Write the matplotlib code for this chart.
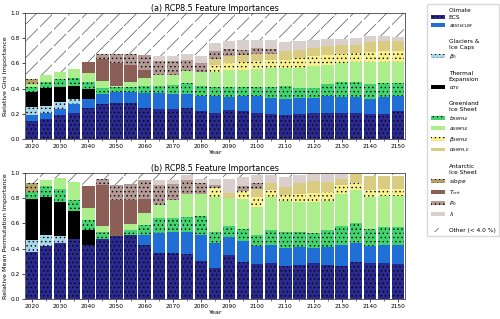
import matplotlib
matplotlib.use("Agg")
import matplotlib.pyplot as plt
from matplotlib.patches import Patch
import numpy as np

years = list(range(2020, 2155, 5))

# (a) relative Gini importance, one list per feature (stacked bottom -> top)
ecs_gini = [.14, .16, .19, .21, .245, .275, .29, .29, .245, .238, .238, .245, .22, .206,
            .228, .22, .206, .2, .193, .2, .206, .206, .206, .206, .2, .2, .22]
adoe_gini = [.05, .045, .05, .065, .075, .085, .085, .08, .12, .127, .122, .115, .124, .133,
             .103, .119, .133, .125, .127, .125, .119, .133, .127, .127, .12, .133, .119]
beta0_gini = [.065, .06, .055, .045] + [0] * 23
alphate_gini = [.12, .14, .12, .105, .075] + [0] * 22
bsimple_gini = [.04, .05, .06, .06, .055, .045, .04, .04, .06, .053, .07, .084, .079, .074,
                .082, .074, .074, .088, .098, .08, .08, .098, .117, .117, .12, .111, .105]
asimple_gini = [.02, .055, .055, .075, .075, .055, .01, .045, .06, .092, .08, .093, .106, .116,
                .132, .132, .143, .15, .145, .158, .172, .153, .153, .158, .168, .164, .164]
betasimple_gini = [0] * 13 + [.061, .058, .063, .06, .061, .061, .08, .079, .079, .074, .075,
                              .08, .088, .088]
alphasimple_gini = [0] * 13 + [.045, .053, .061, .059, .053, .072, .061, .066, .066, .069, .066,
                               .079, .079, .079]
slope_gini = [.04] + [0] * 26
tcrit_gini = [0, 0, 0, 0, .085, .177, .18, .135, .065] + [0] * 18
p0_gini = [0, 0, 0, 0, 0, .04, .07, .085, .115, .113, .106, .093, .074, .061, .058, .04, .047,
           .037] + [0] * 9
lambda_gini = [0] * 9 + [.04, .044, .047, .058, .066, .061, .074, .066, .074, .071, .071, .066,
                         .059, .05, .053, .048, .04, .035]

# (b) relative mean permutation importance
ecs_perm = [.37, .422, .446, .472, .427, .475, .5, .507, .428, .361, .361, .356, .3, .243,
            .348, .296, .277, .282, .261, .269, .288, .269, .261, .296, .282, .288, .277]
adoe_perm = [0] * 8 + [.079, .164, .172, .177, .207, .203, .14, .166, .143, .145, .145, .145,
                       .113, .14, .166, .15, .138, .139, .15]
beta0_perm = [.10, .085, .05] + [0] * 24
alphate_perm = [.325, .303, .277, .225, .119] + [0] * 22
bsimple_perm = [.053, .087, .1, .087, .079, .058, 0, .04, .079, .114, .111, .119, .15, .087,
                .09, .089, .087, .119, .122, .119, .119, .137, .151, .158, .131, .14, .14]
asimple_perm = [0, .045, .084, .145, .093, .042, 0, .048, .092, .106, .14, .184, .179, .277,
                .219, .241, .219, .264, .248, .237, .25, .232, .253, .264, .254, .251, .251]
betasimple_perm = [0] * 13 + [.074, 0, .066, .084, .053, .047, .061, .072, .072, .071, .055,
                              .063, .058, .058]
alphasimple_perm = [0] * 14 + [.045, 0, .061, .053, .066, .085, .095, .079, .053, .067, .106,
                               .1, .1]
slope_perm = [.073] + [0] * 26
tcrit_perm = [0, 0, 0, 0, .176, .33, .285, .19, .111] + [0] * 18
p0_perm = [0, 0, 0, 0, 0, .045, .118, .13, .153, .158, .13, .106, .08, .018, 0, .036, .045] + [0] * 10
lambda_perm = [0] * 9 + [.039, .03, .045, .039, .053, .113, .074, .066, .066, .079, .07, .053,
                         .061, .035] + [0] * 4

features = [
    ('ECS', '#2a2a8e', '....'),
    (r'$a_{DOECLIM}$', '#1f6fd6', ''),
    (r'$\beta_0$', '#a9d7ea', '....'),
    (r'$\alpha_{TE}$', '#000000', ''),
    (r'$b_{SIMPLE}$', '#42d36e', '....'),
    (r'$a_{SIMPLE}$', '#adee8c', ''),
    (r'$\beta_{SIMPLE}$', '#f8f08c', '....'),
    (r'$\alpha_{SIMPLE}$', '#d9cc82', ''),
    (r'$slope$', '#b5a468', '....'),
    (r'$T_{crit}$', '#8c5f56', ''),
    (r'$P_0$', '#b39a94', '....'),
    (r'$\lambda$', '#d9d0cd', ''),
]

gini = [ecs_gini, adoe_gini, beta0_gini, alphate_gini, bsimple_gini, asimple_gini,
        betasimple_gini, alphasimple_gini, slope_gini, tcrit_gini, p0_gini, lambda_gini]
perm = [ecs_perm, adoe_perm, beta0_perm, alphate_perm, bsimple_perm, asimple_perm,
        betasimple_perm, alphasimple_perm, slope_perm, tcrit_perm, p0_perm, lambda_perm]

plt.rcParams['hatch.linewidth'] = 0.5
fs = 4.2


def plot_panel(ax, stacks, title, ylabel):
    bottom = np.zeros(len(years))
    for (label, color, hatch), vals in zip(features, stacks):
        vals = np.array(vals, dtype=float)
        ax.bar(years, vals, width=4.4, bottom=bottom, color=color, hatch=hatch,
               edgecolor='black', linewidth=0)
        bottom += vals
    ax.bar(years, 1 - bottom, width=4.4, bottom=bottom, color='white', hatch='//',
           edgecolor='#555555', linewidth=0)
    ax.set_xlim(2017.5, 2152.5)
    ax.set_ylim(0, 1)
    ax.set_xticks(range(2020, 2151, 10))
    ax.set_xticks(years, minor=True)
    ax.set_yticks(np.arange(0, 1.01, 0.2))
    ax.tick_params(labelsize=fs, length=2, width=0.5, pad=1.5)
    ax.tick_params(which='minor', length=1.2, width=0.4)
    ax.set_xlabel('Year', fontsize=fs + 0.4, labelpad=1)
    ax.set_ylabel(ylabel, fontsize=fs + 0.4, labelpad=2)
    ax.set_title(title, fontsize=fs + 1.6, pad=1.5)
    for s in ax.spines.values():
        s.set_linewidth(0.6)
        s.set_color('#444444')


fig = plt.figure(figsize=(5, 3.19), dpi=100)
ax1 = fig.add_axes([0.05, 0.564, 0.76, 0.395])
ax2 = fig.add_axes([0.05, 0.063, 0.76, 0.395])

plot_panel(ax1, gini, '(a) RCP8.5 Feature Importances', 'Relative Gini Importance')
plot_panel(ax2, perm, '(b) RCP8.5 Feature Importances', 'Relative Mean Permutation Importance')


def header(text):
    return Patch(facecolor='none', edgecolor='none', label=text)


def entry(i):
    label, color, hatch = features[i]
    return Patch(facecolor=color, hatch=hatch, edgecolor='black', linewidth=0, label=label)


blank = Patch(facecolor='none', edgecolor='none', label=' ')
handles = [header('Climate'), entry(0), entry(1), blank,
           header('Glaciers &\nIce Caps'), entry(2), blank,
           header('Thermal\nExpansion'), entry(3), blank,
           header('Greenland\nIce Sheet'), entry(4), entry(5), entry(6), entry(7), blank,
           header('Antarctic\nIce Sheet'), entry(8), entry(9), entry(10), entry(11), blank,
           Patch(facecolor='white', hatch='//', edgecolor='#555555', linewidth=0,
                 label='Other (< 4.0 %)')]

fig.legend(handles=handles, loc='upper left', bbox_to_anchor=(427 / 500, 1 - 4 / 319),
           borderaxespad=0, fontsize=fs, handlelength=2.4, handleheight=0.6,
           labelspacing=0.38, handletextpad=0.7, borderpad=0.6, framealpha=1,
           edgecolor='0.85')

fig.savefig('out.png', dpi=100)
